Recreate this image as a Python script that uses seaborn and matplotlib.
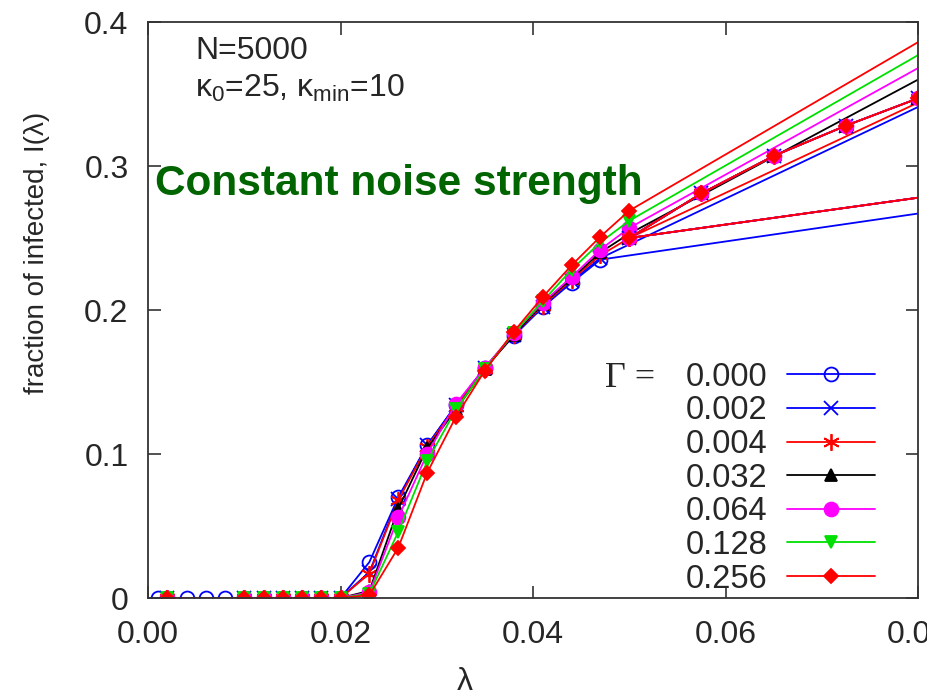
import pandas as pd
import seaborn as sns
import matplotlib.pyplot as plt

# --- data ---
gammas = ['0.000', '0.002', '0.004', '0.032', '0.064', '0.128', '0.256']

# lambda grid of the main runs
lam_g0 = [0.001, 0.002, 0.004, 0.006, 0.008, 0.010, 0.012, 0.014, 0.016, 0.018, 0.020,
          0.023, 0.026, 0.029, 0.032, 0.035, 0.038, 0.041, 0.044, 0.047]
lam_grid = [0.002, 0.010, 0.012, 0.014, 0.016, 0.018, 0.020,
            0.023, 0.026, 0.029, 0.032, 0.035, 0.038, 0.041, 0.044, 0.047, 0.050]

f_000 = [0, 0, 0, 0, 0, 0, 0, 0, 0, 0, 0,
         0.025, 0.070, 0.106, 0.134, 0.160, 0.182, 0.202, 0.219, 0.235]
f_002 = [0, 0, 0, 0, 0, 0, 0,
         0.018, 0.069, 0.106, 0.134, 0.160, 0.183, 0.202, 0.220, 0.236]
f_004 = [0, 0, 0, 0, 0, 0, 0,
         0.017, 0.068, 0.105, 0.133, 0.159, 0.183, 0.203, 0.221, 0.238, 0.250]
f_032 = [0, 0, 0, 0, 0, 0, 0,
         0.005, 0.062, 0.104, 0.131, 0.159, 0.183, 0.204, 0.222, 0.240, 0.253]
f_064 = [0, 0, 0, 0, 0, 0, 0,
         0.004, 0.056, 0.100, 0.135, 0.160, 0.184, 0.205, 0.223, 0.242, 0.257]
f_128 = [0, 0, 0, 0, 0, 0, 0,
         0.003, 0.046, 0.095, 0.131, 0.159, 0.184, 0.206, 0.228, 0.247, 0.262]
f_256 = [0, 0, 0, 0, 0, 0, 0,
         0.002, 0.035, 0.087, 0.126, 0.158, 0.185, 0.209, 0.231, 0.251, 0.269]

# where each curve's last segment leaves the frame (lambda = 0.08)
tail_end = [0.267, 0.341, 0.344, 0.360, 0.368, 0.377, 0.386]

# extra high-lambda runs (shared by several gammas)
hi_lam = [0.050, 0.0575, 0.065, 0.0725, 0.080]
hi_frac = [0.250, 0.281, 0.307, 0.328, 0.347]
hi_gammas = ['0.002', '0.004', '0.032', '0.064', '0.256']
branch_lam = [0.050, 0.080]
branch_frac = [0.250, 0.278]

xticks = [0.00, 0.02, 0.04, 0.06, 0.08]
yticks = [0, 0.1, 0.2, 0.3, 0.4]
ytick_labels = ['0', '0.1', '0.2', '0.3', '0.4']

# --- styles (gnuplot look) ---
colors = ['#0000ff', '#0000ff', '#ff0000', '#000000', '#ff00ff', '#00e000', '#ff0000']
markers = ['o', 'x', (6, 2, 0), '^', 'o', 'v', 'D']
msizes = [10, 10, 12, 9, 10, 9, 7.5]

sns.set_theme(style='ticks')
plt.rcParams['font.family'] = ['Liberation Sans', 'DejaVu Sans']
plt.rcParams['mathtext.fontset'] = 'custom'
plt.rcParams['mathtext.rm'] = 'Liberation Sans'
plt.rcParams['mathtext.it'] = 'Liberation Sans:italic'

fig = plt.figure(figsize=(9.27, 6.97), dpi=100)
ax = fig.add_axes([0.1597, 0.142, 0.8306, 0.8264])

main_x = [lam_g0, lam_grid[:-1], lam_grid, lam_grid, lam_grid, lam_grid, lam_grid]
main_y = [f_000, f_002, f_004, f_032, f_064, f_128, f_256]


def style(i):
    filled = i not in (0, 1, 2)
    return dict(color=colors[i], marker=markers[i], markersize=msizes[i],
                markerfacecolor=colors[i] if filled else 'none',
                markeredgecolor=colors[i], markeredgewidth=1.3, linewidth=1.3)


for i, g in enumerate(gammas):
    df = pd.DataFrame({'lam': main_x[i], 'frac': main_y[i]})
    sns.lineplot(data=df, x='lam', y='frac', ax=ax, estimator=None, sort=False,
                 label=g, **style(i))
    # last segment running out of the frame
    tail = pd.DataFrame({'lam': [main_x[i][-1], 0.080],
                         'frac': [main_y[i][-1], tail_end[i]]})
    sns.lineplot(data=tail, x='lam', y='frac', ax=ax, estimator=None, sort=False,
                 color=colors[i], linewidth=1.3)

# high-lambda runs
br = pd.DataFrame({'lam': branch_lam, 'frac': branch_frac})
hi = pd.DataFrame({'lam': hi_lam, 'frac': hi_frac})
for g in hi_gammas:
    i = gammas.index(g)
    sns.lineplot(data=br, x='lam', y='frac', ax=ax, estimator=None, sort=False,
                 color=colors[i], linewidth=1.3)
    sns.lineplot(data=hi, x='lam', y='frac', ax=ax, estimator=None, sort=False,
                 **style(i))

ax.set_xlim(0, 0.08)
ax.set_ylim(0, 0.4)
ax.set_xticks(xticks)
ax.set_xticklabels([f'{v:.2f}' for v in xticks])
ax.set_yticks(yticks)
ax.set_yticklabels(ytick_labels)
ax.tick_params(direction='in', length=9, width=1.2, top=True, right=True,
               labelsize=23, color='#333333')
ax.tick_params(axis='x', pad=16)
ax.tick_params(axis='y', pad=14)
for s in ax.spines.values():
    s.set_color('#333333')
    s.set_linewidth(1.3)

ax.set_xlabel('λ', fontsize=23)
ax.xaxis.set_label_coords(0.412, -0.12)
ax.set_ylabel('fraction of infected, I(λ)', fontsize=20)
ax.yaxis.set_label_coords(-0.127, 0.6)

ax.text(0.0049, 0.374, 'N=5000', fontsize=23, va='baseline')
ax.text(0.0049, 0.348, 'κ$_0$=25, κ$_{\\rm min}$=10', fontsize=23, va='baseline')
ax.text(0.0007, 0.280, 'Constant noise strength', fontsize=30.5,
        fontweight='bold', color='#006400', va='baseline')

handles, labels = ax.get_legend_handles_labels()
keep = [labels.index(g) for g in gammas]
ax.legend([handles[k] for k in keep], gammas, loc='upper right',
          bbox_to_anchor=(0.944, 0.410), frameon=False, fontsize=23.5,
          markerfirst=False, numpoints=1, handlelength=2.7, handletextpad=0.6,
          labelspacing=0.08, borderpad=0, borderaxespad=0)
ax.text(0.594, 0.366, 'Γ =', transform=ax.transAxes, fontsize=26,
        family=['Liberation Serif', 'DejaVu Serif'], va='baseline')

fig.savefig('out.png', dpi=100)
